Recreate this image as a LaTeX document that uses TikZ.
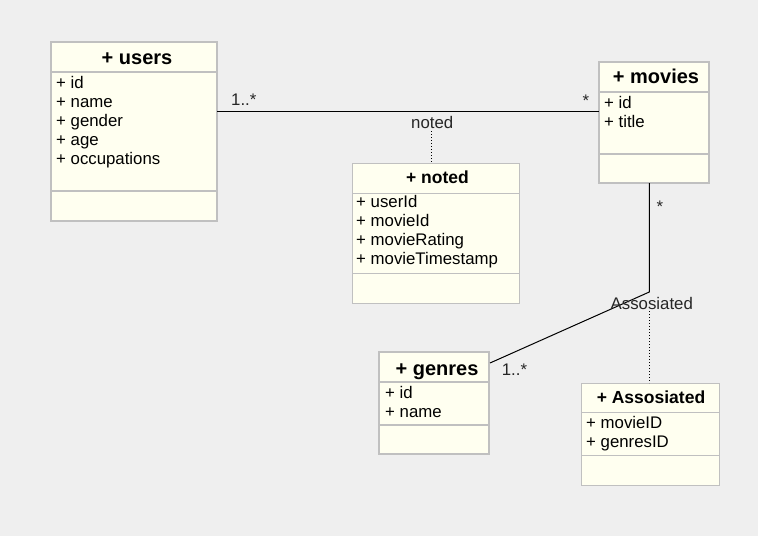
\documentclass[tikz,border=0pt]{standalone}
\usepackage{fontspec}
\setmainfont{Liberation Sans}
\usetikzlibrary{calc}
\definecolor{bg}{HTML}{EFEFEF}
\definecolor{boxfill}{HTML}{FFFFF0}
\definecolor{boxline}{HTML}{C0C0C0}
\begin{document}
\begin{tikzpicture}[x=1pt,y=-1pt,
  attr/.style={anchor=base west, inner sep=0pt, font=\fontsize{16.8}{19}\selectfont},
  ttl/.style={anchor=base, inner sep=0pt, font=\fontsize{20}{23}\selectfont\bfseries},
  thinttl/.style={anchor=base, inner sep=0pt, font=\fontsize{17.5}{20}\selectfont\bfseries},
  lbl/.style={anchor=base west, inner sep=0pt, font=\fontsize{16.8}{19}\selectfont, text=black!85},
  thickbox/.style={draw=boxline, fill=boxfill, line width=2.5pt, anchor=north west, inner sep=0pt, outer sep=0pt},
  thinbox/.style={draw=boxline, fill=boxfill, line width=1pt, anchor=north west, inner sep=0pt, outer sep=0pt},
  thicksep/.style={draw=boxline, line width=2.5pt},
  thinsep/.style={draw=boxline, line width=1pt},
  conn/.style={draw=black, line width=1pt},
  dotconn/.style={draw=black, line width=1pt, dotted}]
\fill[bg] (0,0) rectangle (758,536);
\useasboundingbox (0,0) rectangle (758,536);

% users
\node[thickbox, minimum width=166pt, minimum height=179pt] (users) at (51,42) {};
\draw[thicksep] ($(users.north west)+(0,30)$) -- ($(users.north east)+(0,30)$);
\draw[thicksep] ($(users.south west)+(0,-30)$) -- ($(users.south east)+(0,-30)$);
\node[ttl] (usersT) at (137,64) {+ users};
\node[attr] (u1) at (56,88) {+ id};
\node[attr] (u2) at (56,107) {+ name};
\node[attr] (u3) at (56,126.2) {+ gender};
\node[attr] (u4) at (56,145.4) {+ age};
\node[attr] (u5) at (56,164.6) {+ occupations};

% movies
\node[thickbox, minimum width=110pt, minimum height=121pt] (movies) at (599,62) {};
\draw[thicksep] ($(movies.north west)+(0,30)$) -- ($(movies.north east)+(0,30)$);
\draw[thicksep] ($(movies.south west)+(0,-29)$) -- ($(movies.south east)+(0,-29)$);
\node[ttl] (moviesT) at (656,83.3) {+ movies};
\node[attr] (m1) at (604,108.3) {+ id};
\node[attr] (m2) at (604,127.3) {+ title};

% noted
\node[thinbox, minimum width=167pt, minimum height=140pt] (noted) at (352,163) {};
\draw[thinsep] ($(noted.north west)+(0,30)$) -- ($(noted.north east)+(0,30)$);
\draw[thinsep] ($(noted.south west)+(0,-30)$) -- ($(noted.south east)+(0,-30)$);
\node[thinttl] (notedT) at (437.5,183.3) {+ noted};
\node[attr] (n1) at (356,207.3) {+ userId};
\node[attr] (n2) at (356,226.3) {+ movieId};
\node[attr] (n3) at (356,245.5) {+ movieRating};
\node[attr] (n4) at (356,264.7) {+ movieTimestamp};

% genres
\node[thickbox, minimum width=110pt, minimum height=102pt] (genres) at (379,352) {};
\draw[thicksep] ($(genres.north west)+(0,30)$) -- ($(genres.north east)+(0,30)$);
\draw[thicksep] ($(genres.south west)+(0,-29)$) -- ($(genres.south east)+(0,-29)$);
\node[ttl] (genresT) at (437,375) {+ genres};
\node[attr] (g1) at (385,398.3) {+ id};
\node[attr] (g2) at (385,417.3) {+ name};

% Assosiated
\node[thinbox, minimum width=138pt, minimum height=102pt] (assoc) at (581,383) {};
\draw[thinsep] ($(assoc.north west)+(0,29)$) -- ($(assoc.north east)+(0,29)$);
\draw[thinsep] ($(assoc.south west)+(0,-30)$) -- ($(assoc.south east)+(0,-30)$);
\node[thinttl] (assocT) at (651,403.3) {+ Assosiated};
\node[attr] (a1) at (586,428.3) {+ movieID};
\node[attr] (a2) at (586,447.3) {+ genresID};

% users -- movies
\coordinate (um) at (0,111.5);
\draw[conn] (users.east |- um) -- (movies.west |- um);
\node[lbl] (umA) at (231,105.7) {1..*};
\node[lbl] (umB) at (582.5,106.5) {*};
\node[lbl] (umL) at (411,128.7) {noted};
\coordinate (nd) at (431.7,131);
\draw[dotconn] (nd) -- (noted.north -| nd);

% movies -- genres
\coordinate (mgx) at (649.3,0);
\coordinate (mgbend) at (649.3,292);
\coordinate (mgend) at (490,363);
\draw[conn] (movies.south -| mgx) -- (mgbend) -- (mgend);
\node[lbl] (mgA) at (656.5,212) {*};
\node[lbl] (mgB) at (501.7,375) {1..*};
\node[lbl] (mgL) at (610.5,309) {Assosiated};
\coordinate (ad) at (649.5,311);
\draw[dotconn] (ad) -- (assoc.north -| ad);
\end{tikzpicture}
\end{document}
